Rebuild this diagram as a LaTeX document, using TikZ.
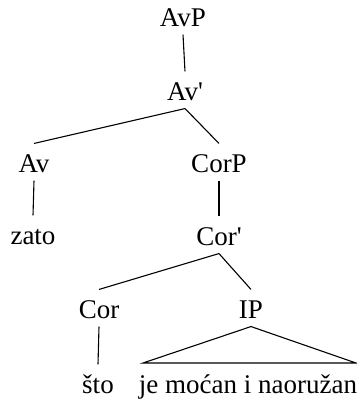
\documentclass[tikz,border=0pt]{standalone}
\usepackage{fontspec}
\setmainfont{Liberation Serif}
\usepackage{tikz}

\begin{document}
\begin{tikzpicture}[x=1pt, y=-1pt, line width=1.1pt,
  cat/.style={font=\fontsize{27}{32}\selectfont, text height=22pt, text depth=2pt, inner sep=6pt, anchor=base}]
  \useasboundingbox (0,0) rectangle (357,400);

  % Upper part
  \node[cat] (avp) at (183, 26) {AvP};
  \node[cat] (avbar) at (185, 100) {Av\textquotesingle};
  \node[cat] (av) at (34, 172) {Av};
  \node[cat] (corp) at (219, 172) {CorP};
  \node[cat] (zato) at (33, 244) {zato};

  \draw (avp.south) -- (avbar.north);
  \draw (avbar.south) -- (av.north);
  \draw (avbar.south) -- (corp.north);
  \draw (av.south) -- (zato.north);

  % Lower part
  \node[cat] (corbar) at (219, 245) {Cor\textquotesingle};
  \node[cat] (cor) at (99, 318) {Cor};
  \node[cat] (ip) at (251, 318) {IP};
  \node[cat] (sto) at (98, 393) {što};
  \node[cat] (phrase) at (248, 393) {je moćan i naoružan};
  \coordinate (tl) at (143, 363);
  \coordinate (tr) at (356, 363);

  \draw (corp.south) -- (corbar.north);
  \draw (corbar.south) -- (cor.north);
  \draw (corbar.south) -- (ip.north);
  \draw (cor.south) -- (sto.north);
  \draw (ip.south) -- (tl) -- (tr) -- cycle;
\end{tikzpicture}
\end{document}
